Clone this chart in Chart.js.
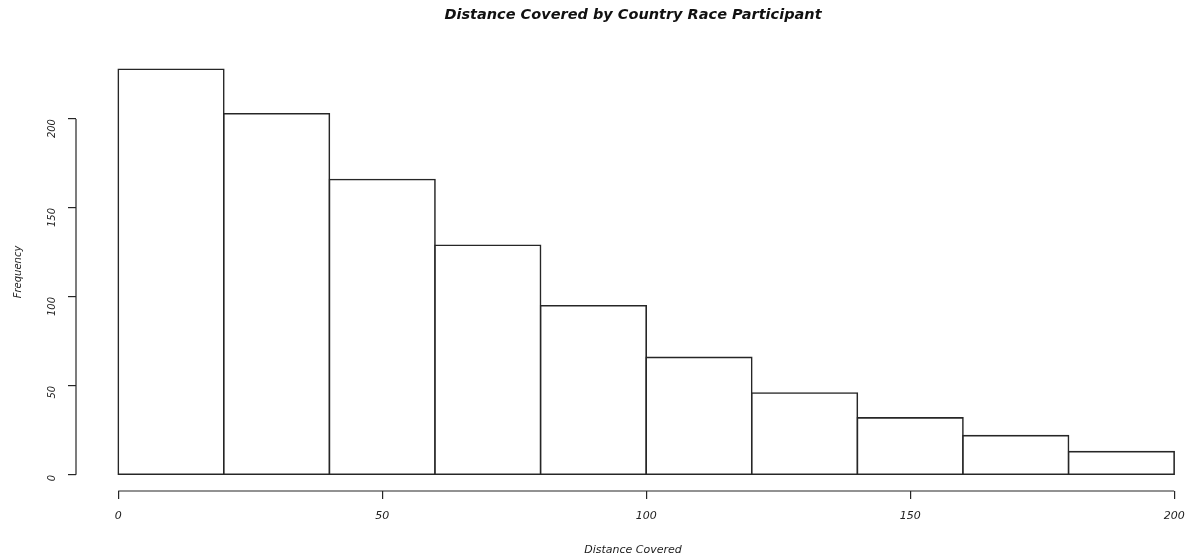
<!DOCTYPE html>
<html>
<head>
<meta charset="utf-8">
<script src="https://cdn.jsdelivr.net/npm/chart.js@4.4.1/dist/chart.umd.min.js"></script>
<style>
  html, body { margin: 0; padding: 0; background: #fff; }
  #wrap { width: 1192px; height: 560px; }
</style>
</head>
<body>
<div id="wrap"><canvas id="histChart" width="1192" height="560"></canvas></div>
<script>
// histogram bins (distance covered), bin centres and counts
var binCenters = [10, 30, 50, 70, 90, 110, 130, 150, 170, 190];
var frequencies = [228, 203, 166, 129, 95, 66, 46, 32, 22, 13];
var xTicks = [0, 50, 100, 150, 200];
var yTicks = [0, 50, 100, 150, 200];

var ink = '#262626';
var labelFont = { family: 'DejaVu Sans', style: 'italic', size: 11 };

var ctx = document.getElementById('histChart').getContext('2d');

var chartData = {
    datasets: [{
        label: 'Frequency',
        data: binCenters.map((c, i) => ({ x: c, y: frequencies[i] })),
        backgroundColor: '#ffffff',
        borderColor: ink,
        borderWidth: 1.6,
        borderSkipped: false,
        inflateAmount: 0.8, // neighbouring bars share one edge
        categoryPercentage: 1,
        barPercentage: 1
    }]
};

// R style axis lines: only from first to last tick
var axisLines = {
    id: 'axisLines',
    afterDraw(chart) {
        const c = chart.ctx;
        const xs = chart.scales.x, ys = chart.scales.y;
        const area = chart.chartArea;
        c.save();
        c.strokeStyle = ink;
        c.lineWidth = 1.2;
        c.beginPath();
        c.moveTo(xs.getPixelForValue(xTicks[0]), area.bottom);
        c.lineTo(xs.getPixelForValue(xTicks[xTicks.length - 1]), area.bottom);
        c.moveTo(area.left, ys.getPixelForValue(yTicks[0]));
        c.lineTo(area.left, ys.getPixelForValue(yTicks[yTicks.length - 1]));
        c.stroke();
        c.restore();
    }
};

var chartOptions = {
    responsive: false,
    animation: false,
    layout: { padding: { left: 0, right: 2, top: 0, bottom: 0 } },
    scales: {
        x: {
            type: 'linear',
            min: -8,
            max: 203,
            offset: false,
            afterBuildTicks: s => { s.ticks = xTicks.map(v => ({ value: v })); },
            afterFit: s => { s.height = 69; s.paddingLeft = 0; s.paddingRight = 0; },
            grid: { offset: false, drawOnChartArea: false, drawTicks: true, tickLength: 8, color: ink, lineWidth: 1.2 },
            border: { display: false },
            ticks: { color: '#222', font: labelFont, padding: 11, maxRotation: 0 },
            title: { display: true, text: 'Distance Covered', color: '#222', font: labelFont, padding: { top: 0, bottom: 3 } }
        },
        y: {
            min: -9.12,
            max: 237.12,
            afterBuildTicks: s => { s.ticks = yTicks.map(v => ({ value: v })); },
            afterFit: s => { s.width = 76; },
            grid: { drawOnChartArea: false, drawTicks: true, tickLength: 8, color: ink, lineWidth: 1.2 },
            border: { display: false },
            ticks: { color: '#222', font: { family: 'DejaVu Sans', style: 'italic', size: 10 }, padding: 16, minRotation: 90, maxRotation: 90 },
            title: { display: true, text: 'Frequency', color: '#222', font: { family: 'DejaVu Sans', style: 'italic', size: 10 }, padding: { top: 12, bottom: 0 } }
        }
    },
    plugins: {
        legend: { display: false },
        tooltip: { enabled: false },
        title: {
            display: true,
            fullSize: false,
            text: 'Distance Covered by Country Race Participant',
            color: '#111',
            font: { family: 'DejaVu Sans', style: 'italic', weight: 'bold', size: 14.5 },
            padding: { top: 7, bottom: 28.6 }
        }
    }
};

var myChart = new Chart(ctx, {
    type: 'bar',
    data: chartData,
    options: chartOptions,
    plugins: [axisLines]
});
</script>
</body>
</html>
